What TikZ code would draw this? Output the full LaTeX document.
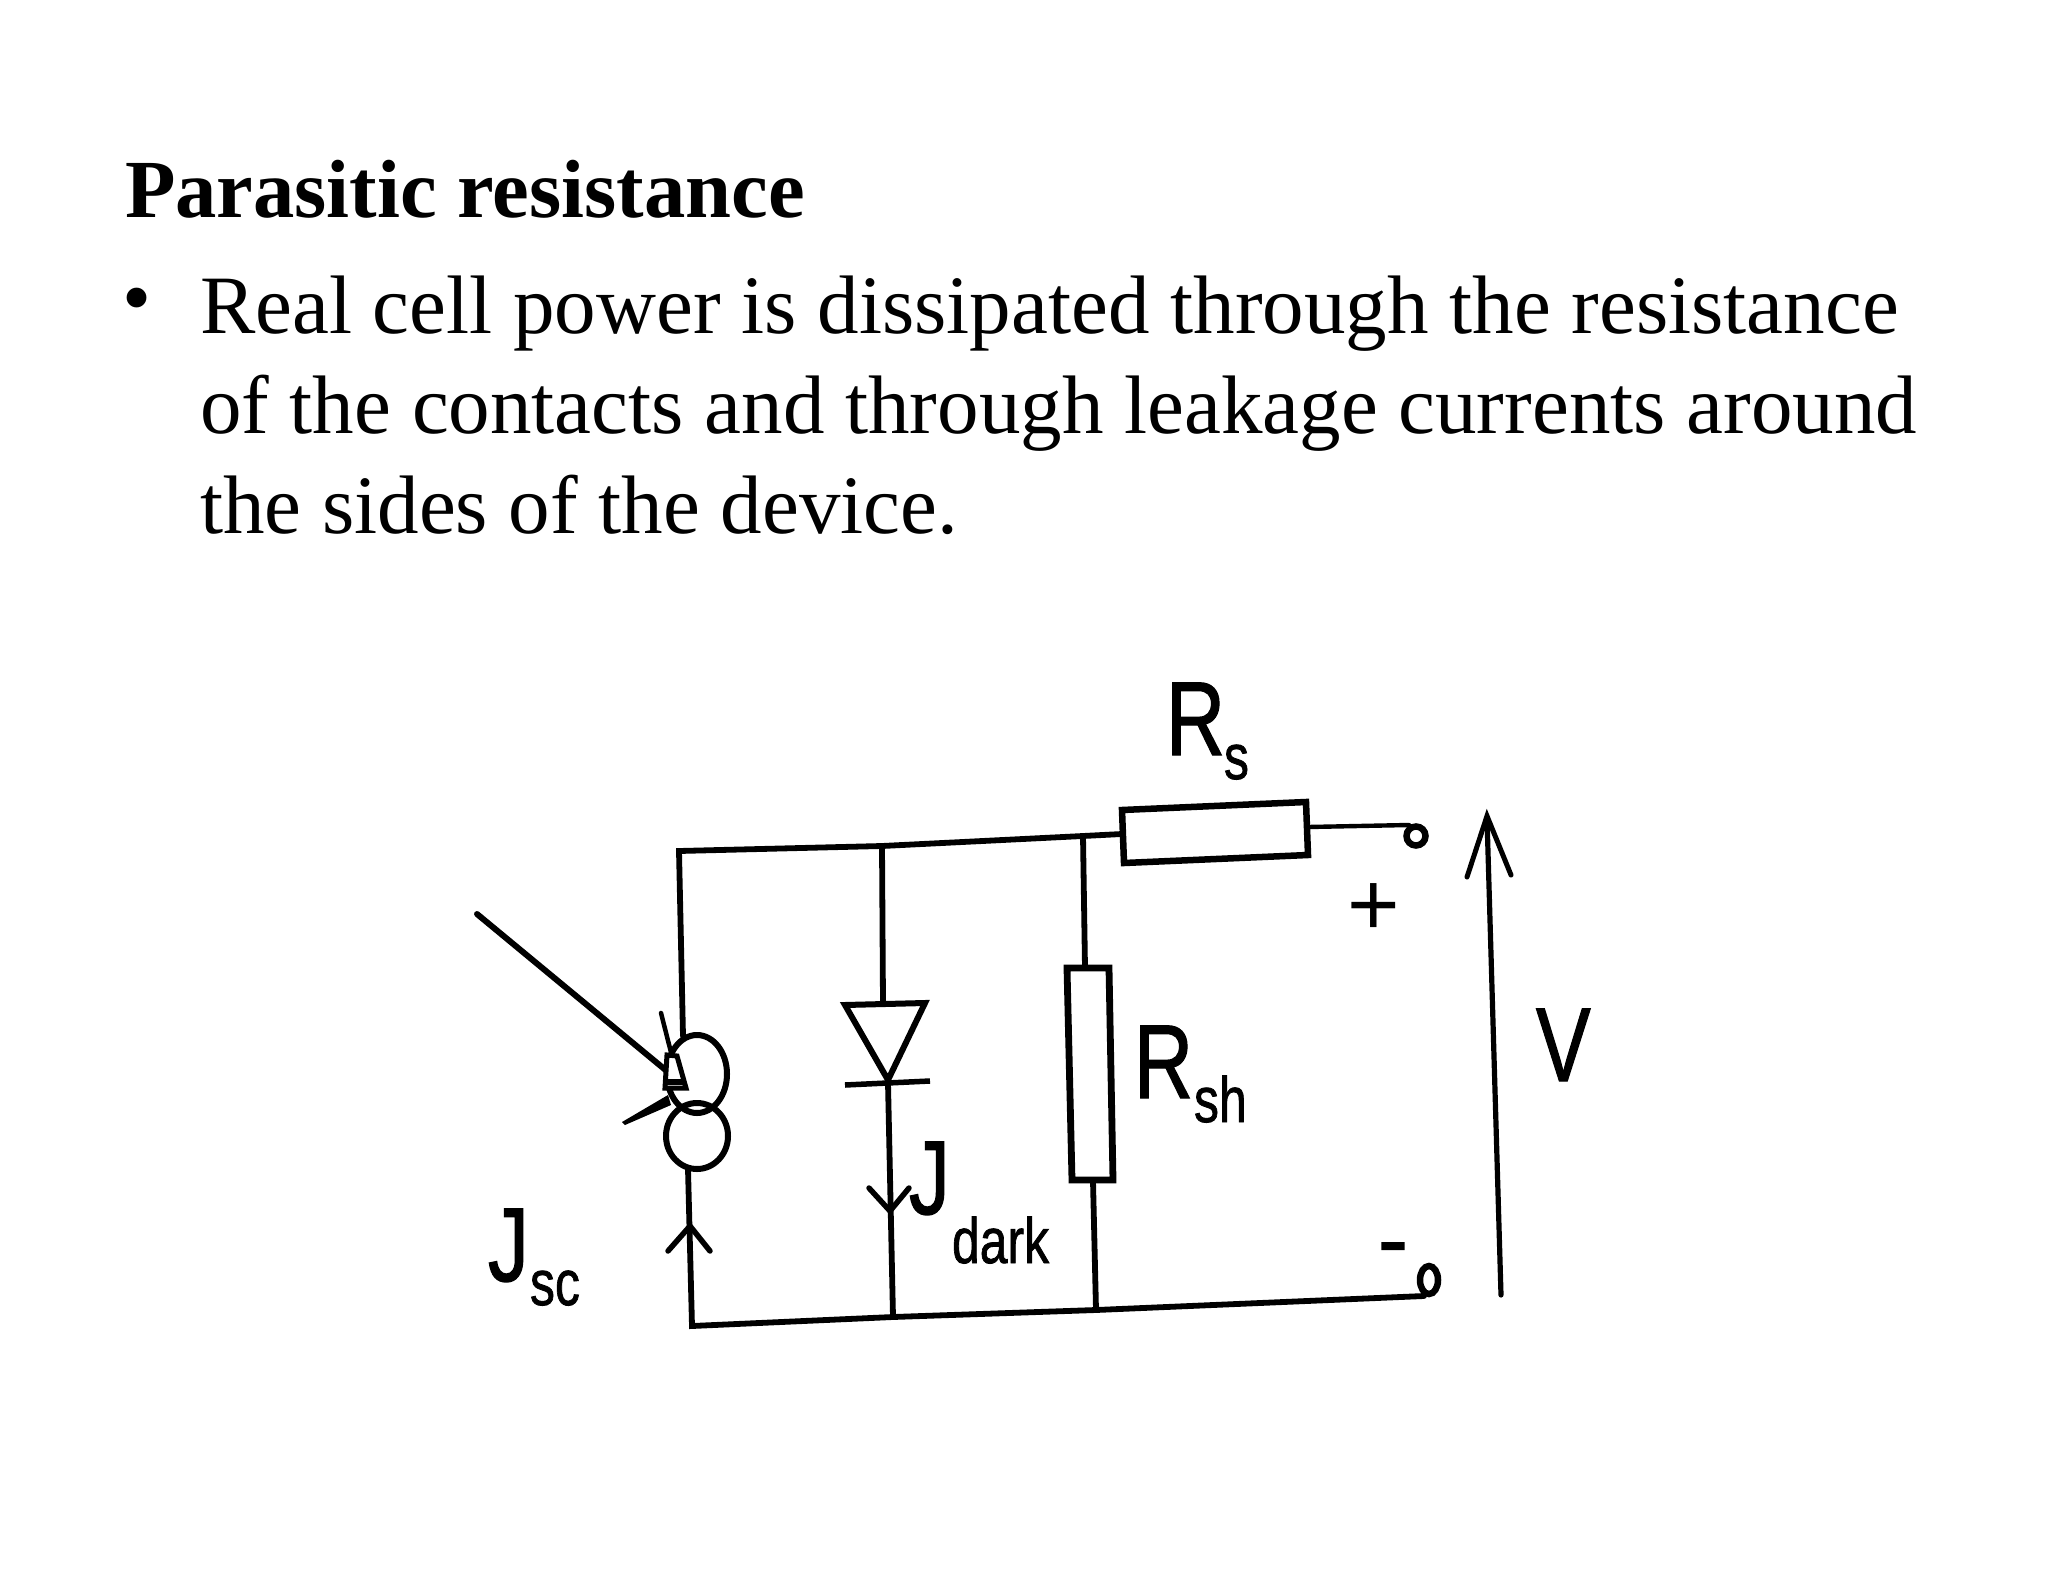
\documentclass[tikz,border=0pt]{standalone}
\usepackage{fontspec}
\usepackage{graphicx}
\usetikzlibrary{shapes.geometric}
\setmainfont{Liberation Serif}
\newfontfamily\labelfont[FakeBold=1.3]{Liberation Sans}
\newfontfamily\signfont{Liberation Sans}
\tikzset{
  wire/.style={line width=5.8pt,draw=black,line cap=round,line join=miter},
  thinwire/.style={line width=4.4pt,draw=black,line cap=round,line join=miter},
  txt/.style={anchor=base west,inner sep=0pt,outer sep=0pt,text=black},
  titletxt/.style={txt,font=\fontsize{82.6}{82.6}\selectfont\bfseries},
  bodytxt/.style={txt,font=\fontsize{83}{83}\selectfont},
  big/.style={txt,font=\labelfont\fontsize{105}{105}\selectfont},
  small/.style={txt,font=\labelfont\fontsize{64}{64}\selectfont}
}
\newcommand{\nar}[1]{\scalebox{.78}[1]{#1}}
\begin{document}
\begin{tikzpicture}[x=1pt,y=-1pt]
\useasboundingbox[fill=white] (0,0) rectangle (2048,1582);

% Text
\node[titletxt] (title) at (125,217) {Parasitic resistance};
\node[bodytxt] (bullet) at (122,325) {•};
\node[bodytxt] (l1) at (200,333) {Real cell power is dissipated through the resistance};
\node[bodytxt] (l2) at (200,433) {of the contacts and through leakage currents around};
\node[bodytxt] (l3) at (200,533) {the sides of the device.};

% Junctions and corners
\coordinate (tl) at (679,851);
\coordinate (bl) at (692,1326);
\coordinate (jd) at (882,846);
\coordinate (jr) at (1083,836);
\coordinate (bd) at (893,1317);
\coordinate (br) at (1096,1310);
\coordinate (rsL) at (1122,834);
\coordinate (rsR) at (1308,827);
\coordinate (pw) at (1409,825);
\coordinate (mw) at (1424,1296);
\coordinate (srcT) at (683,1036);
\coordinate (srcB) at (688,1169);
\coordinate (dT) at (883,1004);
\coordinate (dB) at (888,1083);
\coordinate (shT) at (1085,968);
\coordinate (shB) at (1093,1181);

% Wires
\draw[wire] (srcT) -- (tl) -- (jd) -- (jr) -- (rsL);
\draw[wire] (srcB) -- (bl) -- (bd) -- (br) -- (mw);
\draw[wire] (jd) -- (dT);
\draw[wire] (dB) -- (bd);
\draw[wire] (jr) -- (shT);
\draw[wire] (shB) -- (br);
\draw[thinwire] (rsR) -- (pw);

% Series resistor
\draw[line width=6.5pt,line join=miter,fill=white]
  (1122,810) -- (1306,802) -- (1308,855) -- (1124,863) -- cycle;
% Shunt resistor
\draw[line width=6.8pt,line join=miter,fill=white]
  (1067,968) -- (1109,968) -- (1113,1180) -- (1072,1180) -- cycle;

% Terminals
\node[draw,line width=6.5pt,circle,minimum size=19pt,inner sep=0pt,fill=white] (tp) at (1416,836) {};
\node[draw,line width=6.5pt,ellipse,minimum width=18pt,minimum height=28pt,inner sep=0pt,fill=white] (tm) at (1429,1280) {};

% Diode
\draw[line width=6pt,line join=miter] (845,1005) -- (925,1003) -- (888,1080) -- cycle;
\draw[line width=5.5pt] (845,1085) -- (930,1081);
% J_dark arrow
\coordinate (dtip) at (890,1211);
\draw[line width=5.5pt,line cap=round,line join=miter] (869,1188) -- (dtip) -- (909,1188);

% Source: two overlapping circles
\node[draw,line width=6pt,ellipse,minimum width=60pt,minimum height=78pt,inner sep=0pt] (s1) at (697,1074) {};
\node[draw,line width=6pt,ellipse,minimum width=62pt,minimum height=66pt,inner sep=0pt] (s2) at (697,1136) {};

% Light ray and its arrowhead
\coordinate (ray0) at (477,914);
\coordinate (ray1) at (668,1072);
\draw[line width=6pt,line cap=round] (ray0) -- (ray1);
\draw[line width=4.5pt,line cap=round] (661,1013) -- (677,1076);
\draw[line width=5pt,line join=miter,fill=white] (667,1055) -- (677,1056) -- (686,1088) -- (665,1088) -- cycle;
\draw[line width=6pt] (665,1082) -- (686,1082);
\fill (622,1122) -- (668,1095) -- (671,1105) -- (625,1125) -- cycle;

% J_sc arrow
\draw[line width=5.5pt,line cap=round,line join=miter] (668,1251) -- (690,1226) -- (710,1251);

% Voltage arrow
\coordinate (vB) at (1501,1295);
\coordinate (vT) at (1487,818);
\draw[line width=5.2pt,line cap=round] (vB) -- (vT);
\draw[line width=5pt,line cap=round,line join=miter] (1467,877) -- (1487,816) -- (1511,875);

% Labels
\node[big] (Jsc) at (488,1281) {\nar{J}};
\node[small] (Jscs) at (530,1305) {\nar{sc}};
\node[big] (Jd) at (909,1214) {\nar{J}};
\node[small] (Jds) at (952,1263) {\nar{dark}};
\node[big] (Rs) at (1166,755) {\nar{R}};
\node[small] (Rss) at (1224,779) {\nar{s}};
\node[big] (Rsh) at (1134,1098) {\nar{R}};
\node[small] (Rshs) at (1194,1122) {\nar{sh}};
\node[big] (V) at (1536,1081) {\nar{V}};
\node[txt,font=\signfont\fontsize{90}{90}\selectfont] (plus) at (1347,935) {+};
\node[txt,font=\labelfont\fontsize{90}{90}\selectfont] (minus) at (1378,1270) {-};
\end{tikzpicture}
\end{document}
